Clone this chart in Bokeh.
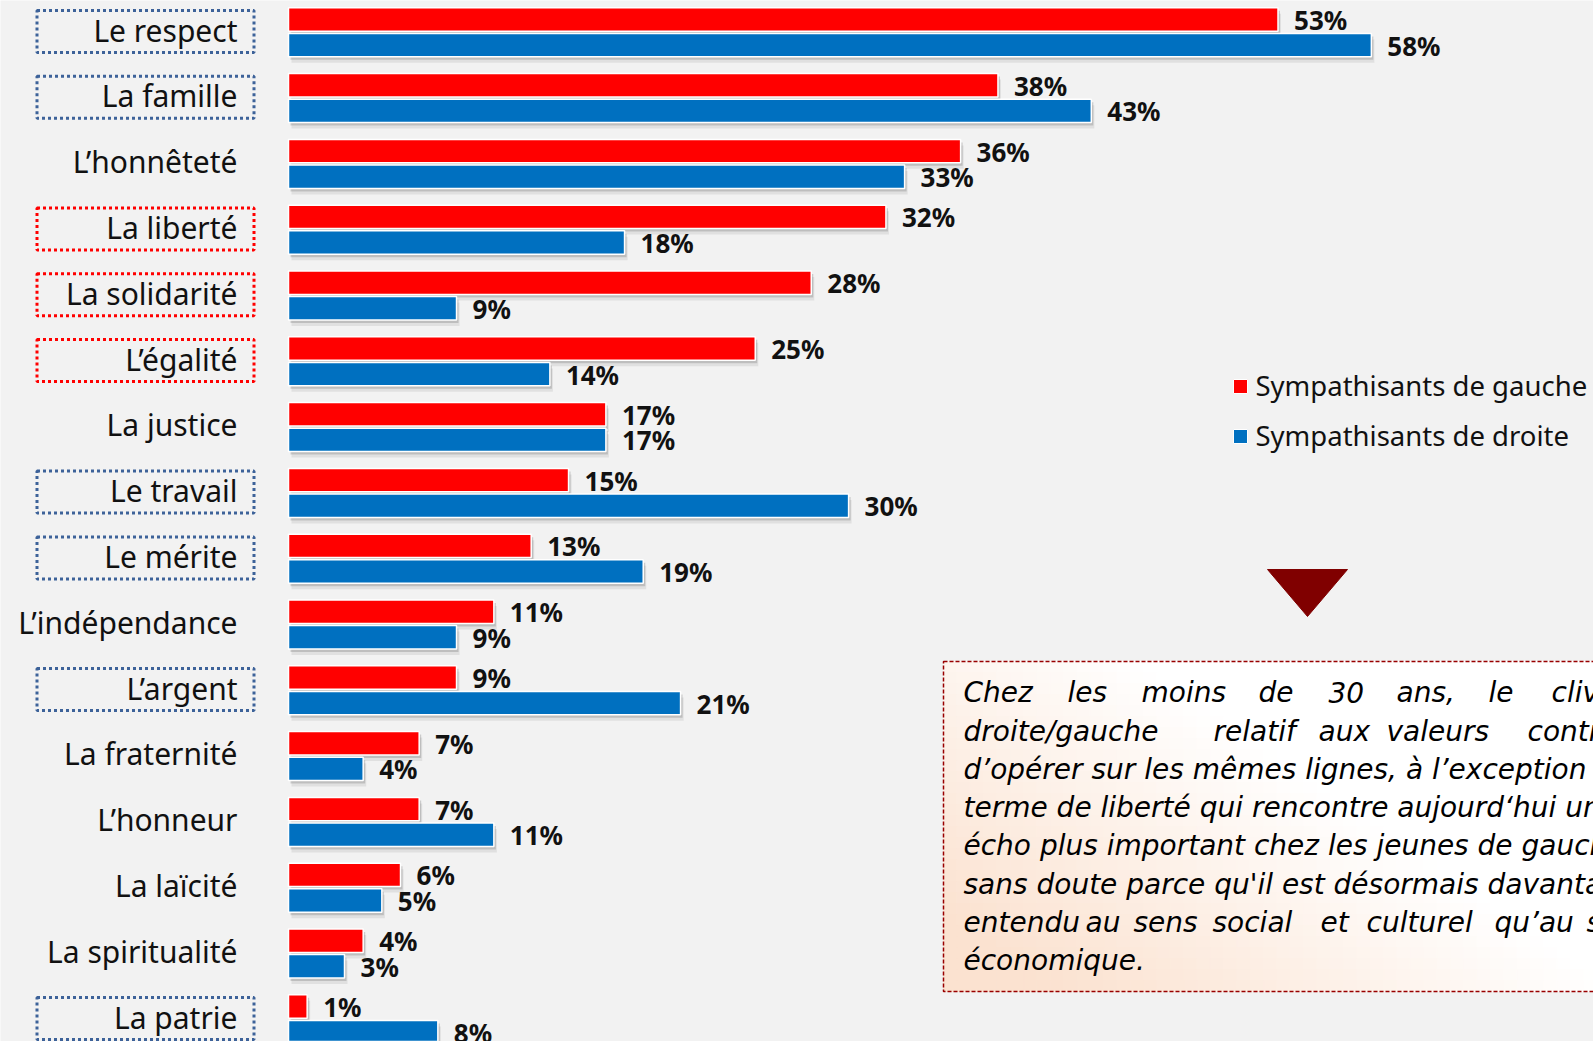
import numpy as np
from bokeh.plotting import figure
from bokeh.models import Range1d
from bokeh.core.properties import value
from bokeh.embed import file_html
from bokeh.resources import INLINE

# ---------------- data ----------------
categories = ["Le respect", "La famille", "L’honnêteté", "La liberté", "La solidarité",
              "L’égalité", "La justice", "Le travail", "Le mérite", "L’indépendance",
              "L’argent", "La fraternité", "L’honneur", "La laïcité", "La spiritualité",
              "La patrie"]
gauche = [53, 38, 36, 32, 28, 25, 17, 15, 13, 11, 9, 7, 7, 6, 4, 1]
droite = [58, 43, 33, 18, 9, 14, 17, 30, 19, 9, 21, 4, 11, 5, 3, 8]
series_names = ["Sympathisants de gauche", "Sympathisants de droite"]
boxed_droite = ["Le respect", "La famille", "Le travail", "Le mérite", "L’argent", "La patrie"]
boxed_gauche = ["La liberté", "La solidarité", "L’égalité"]

note_lines = [
    ["Chez", "les", "moins", "de", "30", "ans,", "le", "clivage"],
    ["droite/gauche", "relatif", "aux", "valeurs", "continue"],
    ["d’opérer sur les mêmes lignes, à l’exception du"],
    ["terme de liberté qui rencontre aujourd‘hui un"],
    ["écho plus important chez les jeunes de gauche,"],
    ["sans doute parce qu'il est désormais davantage"],
    ["entendu", "au", "sens", "social", "et", "culturel", "qu’au", "sens"],
    ["économique."],
]
# x positions (image px) of words on justified lines
note_word_x = [
    [963, 1067, 1141, 1258, 1328, 1396, 1488, 1551],
    [963, 1213, 1318, 1386, 1527],
    [963], [963], [963], [963],
    [963, 1085, 1133, 1212, 1320, 1366, 1494, 1586],
    [963],
]

# ---------------- layout helpers ----------------
W, H = 1593, 1041
OX, OY = 0, 0
PX_PER_PCT = 18.67
ZERO_X = 288.0
PITCH = 65.8
ROW0 = 32.0
BASE_FIX = 0.365  # renderer puts alphabetic baseline this many em lower

def dx(X):
    return (X - ZERO_X) / PX_PER_PCT

def dy(Y):
    return (Y - ROW0) / PITCH

def base(px_size):
    return BASE_FIX * px_size / PITCH

RED = "#FF0000"
BLUE = "#0070C0"
BG = "#F2F2F2"
FONT = value("Noto Sans")

p = figure(width=W, height=H, output_backend="svg", toolbar_location=None,
           x_range=Range1d(dx(OX), dx(OX + W)), y_range=Range1d(dy(OY + H), dy(OY)),
           x_axis_location=None, y_axis_location=None, min_border=0,
           background_fill_color=BG, border_fill_color=BG, outline_line_color=None)
p.grid.visible = False

rows = np.arange(len(categories), dtype=float)
g = np.array(gauche, dtype=float)
d = np.array(droite, dtype=float)
off_r = -13.0 / PITCH
off_b = 12.6 / PITCH
bh = 23.4 / PITCH

# shadows
for sh_dy, sh_dx, a in [(3, 2, 0.30), (6, 3, 0.13)]:
    for vals, off in ((g, off_r), (d, off_b)):
        p.hbar(y=rows + off + sh_dy / PITCH, left=sh_dx / PX_PER_PCT, right=vals + sh_dx / PX_PER_PCT,
               height=bh, fill_color="#707070", fill_alpha=a, line_color=None)

p.hbar(y=rows + off_r, left=0, right=g, height=bh, fill_color=RED,
       line_color="white", line_width=1.5)
p.hbar(y=rows + off_b, left=0, right=d, height=bh, fill_color=BLUE,
       line_color="white", line_width=1.5)

# value labels
VS = 26
p.text(x=g, y=rows + off_r + 10 / PITCH - base(VS), text=[f"{v}%" for v in gauche], x_offset=16,
       text_font=FONT, text_font_size=f"{VS}px", text_font_style="bold",
       text_color="#111111", text_baseline="alphabetic", text_align="left")
p.text(x=d, y=rows + off_b + 10 / PITCH - base(VS), text=[f"{v}%" for v in droite], x_offset=16,
       text_font=FONT, text_font_size=f"{VS}px", text_font_style="bold",
       text_color="#111111", text_baseline="alphabetic", text_align="left")

# category labels
CS = 30
p.text(x=[dx(237)] * len(categories), y=rows + 8.5 / PITCH - base(CS), text=categories,
       text_font=FONT, text_font_size=f"{CS}px", text_color="#111111",
       text_baseline="alphabetic", text_align="right")

# dotted highlight boxes
for names, col in ((boxed_droite, "#3D6299"), (boxed_gauche, "#FF0000")):
    ys = [categories.index(n) - 1.0 / PITCH for n in names]
    p.rect(x=[dx(145)] * len(ys), y=ys, width=217, height=42,
           width_units="screen", height_units="screen",
           fill_alpha=0, line_color=col, line_width=3, line_dash="3 3")

# legend
LS = 27.5
for i, (name, col) in enumerate(zip(series_names, [RED, BLUE])):
    cy = 386 + 50 * i
    p.rect(x=[dx(1240)], y=[dy(cy)], width=14, height=14,
           width_units="screen", height_units="screen",
           fill_color=col, line_color="white", line_width=1)
    p.text(x=[dx(1255)], y=[dy(cy + 9) - base(LS)], text=[name], text_font=FONT,
           text_font_size=f"{LS}px", text_color="#111111", text_baseline="alphabetic")

# triangle
p.patch(x=[dx(1267), dx(1347), dx(1307)], y=[dy(569), dy(569), dy(616)],
        fill_color="#800000", line_color="#800000")

# note box with gradient
BX0, BX1, BY0, BY1 = 943, 1610, 661, 991
nx, ny = 50, 30
xs = np.linspace(BX0, BX1, nx + 1)
ys_ = np.linspace(BY0, BY1, ny + 1)
L, R, T, B, C = [], [], [], [], []
peach = np.array([251, 226, 208])
for j in range(ny):
    for i in range(nx):
        xc = (xs[i] + xs[i + 1]) / 2
        yc = (ys_[j] + ys_[j + 1]) / 2
        u = (xc - BX0) / 650.0
        v = (yc - BY0) / 330.0
        s = float(np.clip(0.35 + 0.85 * v - 1.15 * u, 0, 1))
        c = np.round(255 - s * (255 - peach)).astype(int)
        L.append(dx(xs[i])); R.append(dx(xs[i + 1]))
        T.append(dy(ys_[j])); B.append(dy(ys_[j + 1]))
        C.append("#%02x%02x%02x" % tuple(c))
p.quad(left=L, right=R, top=T, bottom=B, fill_color=C, line_color=C, line_width=1)
p.quad(left=[dx(BX0)], right=[dx(BX1)], top=[dy(BY0)], bottom=[dy(BY1)],
       fill_alpha=0, line_color="#990000", line_width=1.5, line_dash="4 2")

NS = 28
for k, (words, wx) in enumerate(zip(note_lines, note_word_x)):
    bl = 702.5 + 38.3 * k
    p.text(x=[dx(v_) for v_ in wx], y=[dy(bl) - base(NS)] * len(words), text=words,
           text_font=value("DejaVu Sans"), text_font_size=f"{NS}px", text_font_style="italic",
           text_color="#000000", text_baseline="alphabetic", text_align="left")

open("out.html", "w").write(file_html(p, INLINE))
